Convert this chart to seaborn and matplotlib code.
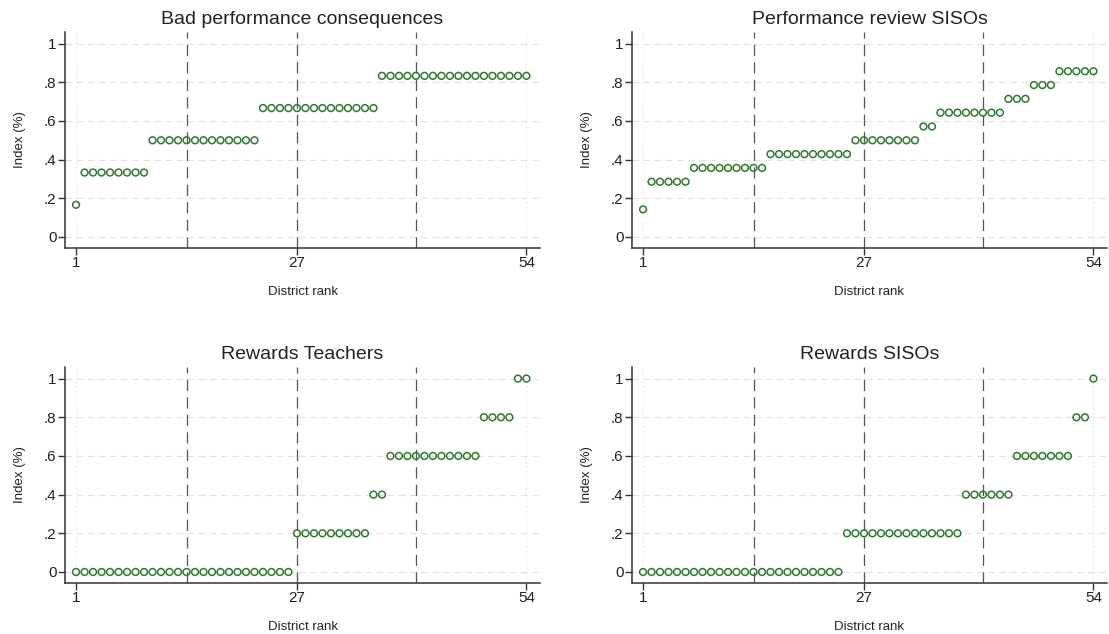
import numpy as np
import pandas as pd
import matplotlib
matplotlib.use("Agg")
import matplotlib.pyplot as plt
import seaborn as sns

# Index levels and how many districts sit on each level (ranks 1..54, sorted)
titles = ["Bad performance consequences", "Performance review SISOs",
          "Rewards Teachers", "Rewards SISOs"]

bad_levels = [1/6, 2/6, 3/6, 4/6, 5/6]
bad_counts = [1, 8, 13, 14, 18]

review_levels = [1/7, 2/7, 5/14, 3/7, 1/2, 4/7, 9/14, 5/7, 11/14, 6/7]
review_counts = [1, 5, 9, 10, 8, 2, 8, 3, 3, 5]

teach_levels = [0, 0.2, 0.4, 0.6, 0.8, 1.0]
teach_counts = [26, 9, 2, 11, 4, 2]

siso_levels = [0, 0.2, 0.4, 0.6, 0.8, 1.0]
siso_counts = [24, 14, 6, 7, 2, 1]

quartile_lines = [14, 27, 41]
x_ticks = [1, 27, 54]
y_ticks = [0, 0.2, 0.4, 0.6, 0.8, 1.0]
y_ticklabels = ["0", ".2", ".4", ".6", ".8", "1"]

panels = [(bad_levels, bad_counts), (review_levels, review_counts),
          (teach_levels, teach_counts), (siso_levels, siso_counts)]

sns.set_style("ticks")
plt.rcParams["font.family"] = ["Liberation Sans", "DejaVu Sans"]

green = "#2f7a2f"
W, H = 1109, 634
fig = plt.figure(figsize=(W / 100, H / 100), dpi=100)

# axes boxes in pixels: left, top, right, bottom
boxes = [(65, 32, 540, 248), (632, 32, 1107, 248),
         (65, 367, 540, 583), (632, 367, 1107, 583)]

for (levels, counts), title, (l, t, r, b) in zip(panels, titles, boxes):
    ax = fig.add_axes([l / W, 1 - b / H, (r - l) / W, (b - t) / H])
    vals = np.repeat(levels, counts)
    df = pd.DataFrame({"rank": np.arange(1, len(vals) + 1), "index": vals})

    for yv in y_ticks:
        ax.axhline(yv, color="#e3e3e3", lw=0.8, ls=(0, (6, 4)), zorder=0)
    for xv in x_ticks:
        ax.axvline(xv, color="#ececec", lw=0.8, ls=(0, (2, 2)), zorder=0)
    for xv in quartile_lines:
        ax.axvline(xv, color="#555555", lw=0.9, ls=(0, (9, 5)), zorder=1)

    sns.scatterplot(data=df, x="rank", y="index", ax=ax, marker="o", s=24,
                    facecolor="none", edgecolor=green, linewidth=1.1, zorder=3)

    ax.set_xlim(-0.3, 55.6)
    ax.set_ylim(-0.057, 1.06)
    ax.set_xticks(x_ticks)
    ax.set_yticks(y_ticks)
    ax.set_yticklabels(y_ticklabels)
    ax.tick_params(axis="both", which="major", direction="out", length=5,
                   width=1.0, color="#333333", labelsize=11, pad=1,
                   labelcolor="#222222")
    for side in ["top", "right"]:
        ax.spines[side].set_visible(False)
    for side in ["left", "bottom"]:
        ax.spines[side].set_color("#333333")
        ax.spines[side].set_linewidth(1.1)
    ax.set_title(title, fontsize=14, color="#222222", pad=6)
    ax.set_xlabel("District rank", fontsize=9.5, color="#222222", labelpad=11)
    ax.set_ylabel("Index (%)", fontsize=9.5, color="#222222", labelpad=13)

fig.savefig("out.png", dpi=100)
